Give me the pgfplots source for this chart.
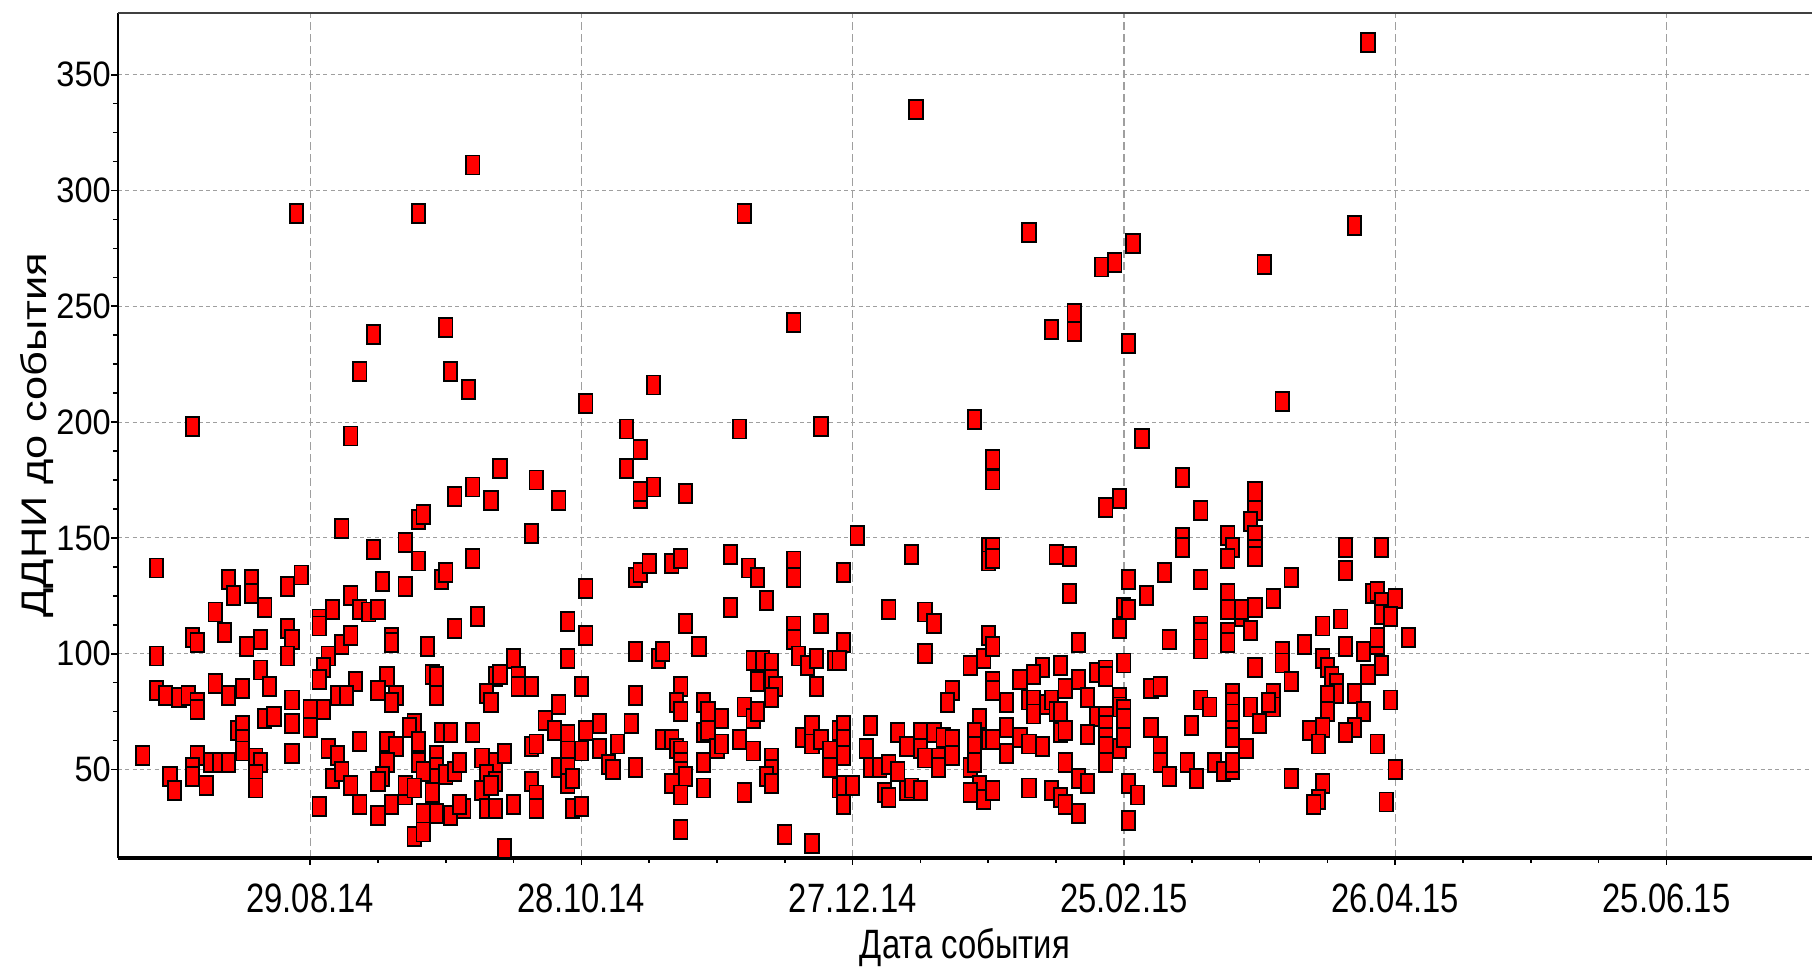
\documentclass[border=0pt]{standalone}
\usepackage{graphicx}
\usepackage{fontspec}
\setmainfont{Liberation Sans}
\usepackage{pgfplots}
\usepackage{pgfplotstable}
\pgfplotsset{compat=1.18}

\newcommand{\xl}[1]{\fontsize{12.3}{14}\selectfont\scalebox{0.8}[1]{#1}}
\newcommand{\yl}[1]{\fontsize{10.6}{12}\selectfont\scalebox{0.92}[1]{#1}}

% x: days since 29.08.14, y: DDNI before the event
\pgfplotstableread{
d v
-26 198
-3 290
9 194
14 238
11 222
24 290
30 241
31 222
35 214
36 311
42 180
50 175
36 172
61 208
70 197
73 188
70 180
76 216
96 290
95 197
107 243
113 198
134 335
147 201
151 184
151 175
159 282
164 240
169 247
169 239
175 267
178 269
182 277
181 234
184 193
193 176
211 268
215 209
231 285
234 364
7 154
-34 137
-18 132
-17 125
-13 132
-13 126
-10 120
-5 129
-2 134
-21 118
-19 109
-26 107
-25 105
-14 103
-11 106
-5 111
-4 106
-5 99
2 115
2 112
5 119
7 104
-34 99
-11 93
-9 86
4 99
3 94
2 89
-34 84
-32 82
-29 81
-27 82
-25 79
-25 76
-21 87
-18 82
-15 85
-4 80
-10 72
-8 73
-4 70
0 76
0 68
3 76
6 82
-16 67
-15 69
-15 63
-15 58
-37 56
-25 56
-26 51
-26 47
-31 47
-30 41
-23 43
-22 53
-20 53
-18 53
-12 55
-11 53
-12 48
-12 42
-4 57
4 59
6 56
5 46
7 49
2 34
32 168
40 166
55 166
24 158
25 160
21 148
14 145
24 140
49 152
36 141
16 131
21 129
29 132
30 135
9 125
11 119
13 118
15 119
37 116
32 111
9 108
18 107
18 105
26 103
45 98
10 88
17 90
15 84
19 82
18 79
8 82
27 91
28 90
28 82
41 90
42 91
46 90
46 86
49 86
39 83
40 79
55 78
23 70
22 68
11 62
17 62
19 60
24 62
29 66
31 66
36 66
17 53
16 47
15 45
24 53
28 56
28 51
27 46
27 40
30 48
32 49
33 53
25 49
38 55
41 53
43 57
39 48
41 45
38 41
40 43
9 43
11 35
15 30
18 35
21 39
21 43
23 42
25 31
28 31
31 30
23 21
25 23
34 33
33 35
39 33
41 33
45 35
49 45
50 39
50 33
43 16
49 60
50 61
52 71
54 67
73 167
73 170
76 172
83 169
61 128
57 114
61 108
57 98
72 133
73 135
75 139
80 139
82 141
93 143
97 137
99 133
101 123
93 120
83 113
86 103
72 101
77 98
78 101
98 97
100 97
102 96
102 89
103 86
102 81
99 88
60 86
72 82
82 86
81 79
82 75
87 79
88 75
91 72
96 77
98 72
99 75
57 65
61 67
64 70
71 70
57 58
60 58
64 59
68 61
78 63
80 63
81 59
82 58
87 66
88 67
90 59
91 61
95 63
98 58
102 55
102 50
101 47
102 44
66 52
67 50
72 51
55 51
57 51
57 44
58 46
82 53
82 49
83 47
80 44
82 39
87 53
87 42
96 40
58 33
60 34
82 24
105 22
107 140
107 133
118 135
121 151
133 143
150 146
151 146
150 140
151 141
128 119
136 118
138 113
107 112
107 106
113 113
118 105
108 99
110 95
112 98
116 97
117 97
136 100
146 95
149 98
150 108
151 103
151 88
151 84
112 86
142 84
141 79
148 72
109 64
111 69
111 61
113 63
115 58
115 51
117 67
118 69
118 63
118 56
117 42
118 43
118 35
120 43
124 69
123 59
124 51
126 51
128 52
130 49
127 40
128 38
130 66
132 60
132 41
133 42
135 41
135 66
135 59
138 66
136 55
139 55
139 51
140 64
142 63
142 56
146 51
147 66
147 60
147 53
148 43
149 37
146 40
150 63
151 63
151 41
111 18
176 163
179 167
197 162
193 150
193 146
165 143
168 142
181 132
189 135
197 132
185 125
168 126
180 120
181 119
179 111
190 106
170 105
197 112
197 109
197 102
180 96
162 94
160 91
157 89
166 95
174 92
176 93
176 90
170 89
167 85
154 79
159 80
160 80
160 74
163 78
164 80
165 75
166 75
172 81
174 73
176 73
179 81
179 77
180 76
180 72
186 85
188 86
197 80
199 77
154 68
154 57
157 64
159 61
162 60
166 66
167 67
172 65
176 69
176 64
176 60
176 53
179 59
180 64
186 68
188 60
188 53
190 47
195 69
194 53
196 46
200 53
167 53
170 46
172 44
159 42
164 41
166 38
167 35
170 31
181 44
183 39
181 28
209 170
209 162
208 157
209 151
209 145
209 142
203 151
204 146
203 141
217 133
213 124
229 146
229 136
237 146
203 126
203 119
206 116
206 119
209 120
208 110
203 109
203 105
220 104
215 101
215 96
217 88
209 94
224 112
228 115
229 103
233 101
236 104
236 107
235 126
236 127
237 122
240 124
237 117
239 116
243 107
234 91
237 95
239 80
224 98
225 94
226 90
227 87
227 83
225 82
225 75
231 83
233 75
231 68
229 66
224 68
221 67
223 61
213 83
213 77
212 79
208 77
210 70
204 83
204 79
204 74
204 67
204 64
207 59
202 49
204 50
204 53
236 61
240 50
217 46
224 44
223 37
222 35
238 36
}\events

\begin{document}
\begin{tikzpicture}
\begin{axis}[
  scale only axis,
  width=508.2pt, height=253.6pt,
  xmin=-42.5, xmax=332.2,
  ymin=11.8, ymax=376.8,
  axis x line*=bottom, axis y line*=left,
  x axis line style={line width=1.3pt, -},
  y axis line style={line width=0.8pt, -},
  tick align=outside,
  major tick length=2pt, minor tick length=1.5pt,
  every tick/.style={black, line width=0.5pt},
  xtick={0,60,120,180,240,300},
  xticklabels={\xl{29.08.14},\xl{28.10.14},\xl{27.12.14},\xl{25.02.15},\xl{26.04.15},\xl{25.06.15}},
  ytick={50,100,150,200,250,300,350},
  yticklabels={\yl{50},\yl{100},\yl{150},\yl{200},\yl{250},\yl{300},\yl{350}},
  minor x tick num=3, minor y tick num=3,
  xticklabel style={anchor=base, yshift=-14.3pt},
  yticklabel style={anchor=east, inner sep=0pt, xshift=0pt},
  xmajorgrids, ymajorgrids,
  x grid style={gray!75, line width=0.35pt, dash pattern=on 2.4pt off 1.2pt},
  y grid style={gray!75, line width=0.35pt, dash pattern=on 1.2pt off 1pt},
  xlabel={\fontsize{12.3}{14}\selectfont\scalebox{0.8}[1]{Дата события}},
  ylabel={\fontsize{13}{15}\selectfont\scalebox{1}[0.82]{ДДНИ до события}},
  every axis x label/.style={at={(rel axis cs:0.5,0)}, anchor=base, yshift=-30.2pt},
  every axis y label/.style={at={(rel axis cs:0,0.5)}, xshift=-21.5pt, rotate=90, anchor=base},
]
\addplot[only marks, mark=square*, mark size=2.85pt,
  mark options={fill=red, draw=black, line width=0.55pt, xscale=0.7}]
  table[x=d, y=v] {\events};
\draw[line width=0.6pt, black!75] (rel axis cs:0,1) -- (rel axis cs:1,1);
\coordinate (sw) at (rel axis cs:0,0);
\coordinate (ne) at (rel axis cs:1,1);
\end{axis}
\pgfresetboundingbox
\path[use as bounding box] ([xshift=-35.4pt, yshift=-33.3pt]sw) rectangle ([yshift=3.8pt]ne);
\end{tikzpicture}
\end{document}
